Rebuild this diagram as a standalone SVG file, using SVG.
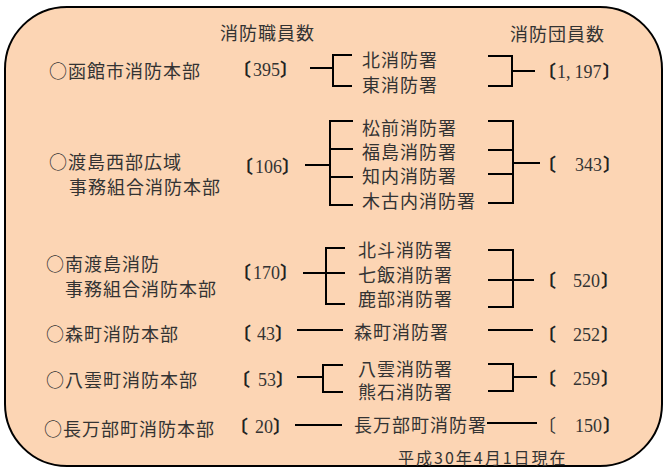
<svg xmlns="http://www.w3.org/2000/svg" width="663" height="468" viewBox="0 0 663 468">
<style>
.t{font-family:'Noto Sans CJK JP',sans-serif;font-size:18px;fill:#333;letter-spacing:1px}
.n{font-family:'Liberation Serif','Noto Sans CJK JP',serif;font-size:18px;fill:#333}
.b{font-family:'Noto Sans CJK JP',sans-serif;font-weight:700;fill:#222}
.f{font-family:'Noto Sans CJK JP',sans-serif;font-size:16px;fill:#333;letter-spacing:2px}
.c{fill:none;stroke:#000;stroke-width:2}
</style>
<rect id="panel" x="5" y="7" width="657" height="459" rx="62" ry="62" fill="#FCD5B4" stroke="#000" stroke-width="2"/>
<g id="headers">
<text class="t" x="220" y="40">消防職員数</text>
<text class="t" x="510" y="41">消防団員数</text>
</g>
<g id="connectors">
<path class="c" d="M310,68H333M352,55H333V86H352M488,56H512V86H488M512,71H535"/>
<path class="c" d="M305,165H330M353,121H330V205H353M330,149H353M330,177H353M488,121H513V203H488M488,150H513M488,174H513M513,163H540"/>
<path class="c" d="M303,273H345M345,248H326V304H345M488,250H513V307H488M488,280H534"/>
<path class="c" d="M297,330H343M488,330H533"/>
<path class="c" d="M297,377H323M343,365H323V392H343M488,364H513V391H488M513,377H537"/>
<path class="c" d="M295,425H342M487,423H537"/>
</g>
<g id="hakodate">
<text class="t" x="49" y="78">○函館市消防本部</text>
<text class="n" x="233" y="76"><tspan class="b">〔</tspan><tspan dx="2">395</tspan><tspan class="b">〕</tspan></text>
<text class="t" x="362" y="67">北消防署</text>
<text class="t" x="362" y="92">東消防署</text>
<text class="n" x="538" y="78"><tspan class="b">〔</tspan><tspan dx="1">1,</tspan><tspan dx="4">197</tspan><tspan class="b" dx="1">〕</tspan></text>
</g>
<g id="oshimaseibu">
<text class="t" x="49" y="169">○渡島西部広域</text>
<text class="t" x="69" y="194">事務組合消防本部</text>
<text class="n" x="235" y="173"><tspan class="b">〔</tspan><tspan dx="2">106</tspan><tspan class="b">〕</tspan></text>
<text class="t" x="362" y="135">松前消防署</text>
<text class="t" x="362" y="159">福島消防署</text>
<text class="t" x="362" y="183">知内消防署</text>
<text class="t" x="362" y="208">木古内消防署</text>
<text class="n" x="538" y="171"><tspan class="b">〔</tspan><tspan dx="19">343</tspan><tspan class="b" dx="1">〕</tspan></text>
</g>
<g id="minamioshima">
<text class="t" x="46" y="271">○南渡島消防</text>
<text class="t" x="65" y="296">事務組合消防本部</text>
<text class="n" x="233" y="279"><tspan class="b">〔</tspan><tspan dx="2">170</tspan><tspan class="b">〕</tspan></text>
<text class="t" x="358" y="257">北斗消防署</text>
<text class="t" x="358" y="282">七飯消防署</text>
<text class="t" x="358" y="306">鹿部消防署</text>
<text class="n" x="538" y="287"><tspan class="b">〔</tspan><tspan dx="17">520</tspan><tspan class="b" dx="1">〕</tspan></text>
</g>
<g id="mori">
<text class="t" x="46" y="341">○森町消防本部</text>
<text class="n" x="233" y="340"><tspan class="b">〔</tspan><tspan dx="6">43</tspan><tspan class="b">〕</tspan></text>
<text class="t" x="354" y="339">森町消防署</text>
<text class="n" x="538" y="341"><tspan class="b">〔</tspan><tspan dx="17">252</tspan><tspan class="b" dx="1">〕</tspan></text>
</g>
<g id="yakumo">
<text class="t" x="46" y="387">○八雲町消防本部</text>
<text class="n" x="232" y="386"><tspan class="b">〔</tspan><tspan dx="8">53</tspan><tspan class="b">〕</tspan></text>
<text class="t" x="358" y="376">八雲消防署</text>
<text class="t" x="358" y="399">熊石消防署</text>
<text class="n" x="538" y="385"><tspan class="b">〔</tspan><tspan dx="17">259</tspan><tspan class="b" dx="1">〕</tspan></text>
</g>
<g id="oshamanbe">
<text class="t" x="44" y="436">○長万部町消防本部</text>
<text class="n" x="230" y="433"><tspan class="b">〔</tspan><tspan dx="7">20</tspan><tspan class="b">〕</tspan></text>
<text class="t" x="354" y="432">長万部町消防署</text>
<text class="n" x="538" y="432">〔<tspan dx="19">150</tspan><tspan class="b" dx="1">〕</tspan></text>
</g>
<text class="f" x="398" y="464">平成30年4月1日現在</text>
</svg>
